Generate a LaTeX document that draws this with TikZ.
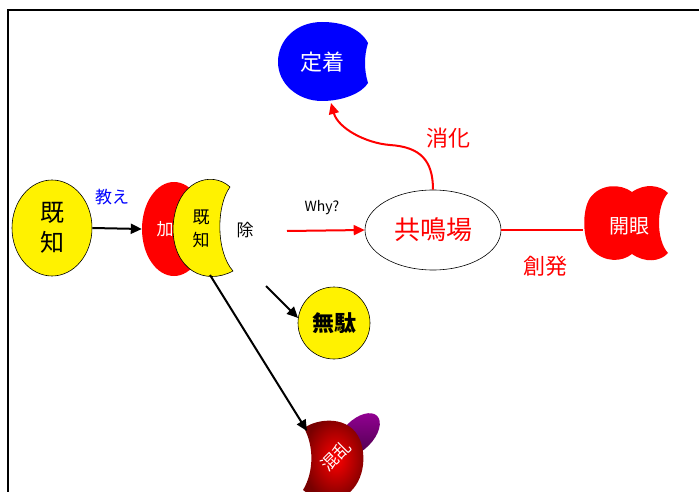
\documentclass[tikz,border=0pt]{standalone}
\usepackage{fontspec}
\setmainfont{Noto Sans CJK JP}
\usetikzlibrary{shapes.geometric,arrows.meta}
\definecolor{darkred}{RGB}{120,0,0}
\definecolor{purp}{RGB}{150,0,150}
\definecolor{darkpurp}{RGB}{70,0,70}
\begin{document}
\begin{tikzpicture}[x=1pt,y=-1pt,
  arrK/.style={line width=2pt,-{Triangle[length=11pt,width=10pt]}},
  arrR/.style={line width=2pt,red,-{Triangle[length=11pt,width=10pt]}},
  lbl/.style={inner sep=0pt},
  f17/.style={font=\fontsize{17}{20}\selectfont},
  f22/.style={font=\fontsize{22}{26}\selectfont}]
\clip (0,0) rectangle (699,492);
\useasboundingbox (0,0) rectangle (699,492);
\draw[line width=1.8pt] (8,500) -- (8,10) -- (710,10);

% left kichi
\node[ellipse,draw,line width=0.6pt,fill=yellow,minimum width=80,minimum height=96,inner sep=0pt,
      font=\fontsize{24}{30}\selectfont,align=center] (kichiA) at (52,228) {既\\知};
% red ellipse
\node[ellipse,fill=red,minimum width=64,minimum height=94,inner sep=0pt] (kuwae) at (174,229) {};
\node[lbl,f17,text=white] (kuwaeT) at (165,229) {加};
% crescent
\filldraw[fill=yellow,draw=black,line width=0.6pt]
  (230,187) .. controls (212,170) and (175,180) .. (173,228)
  .. controls (173,270) and (205,286) .. (233,271)
  .. controls (216,252) and (216,206) .. (230,187) -- cycle;
\node[lbl,f17,align=center] (kichiB) at (201,229) {既\\[3pt]知};
\node[lbl,f17] (nozoku) at (245,230) {除};
\draw[arrK] (kichiA.east) -- (kuwae.west);
\node[lbl,f17,text=blue] (oshie) at (112,197) {教え};

% kyomeiba
\node[ellipse,draw,line width=0.6pt,minimum width=136,minimum height=80,inner sep=0pt,text=red,
      font=\fontsize{26}{30}\selectfont] (kyomei) at (433,230) {共鳴場};
\coordinate (whyS) at (287,231);
\draw[arrR] (whyS) -- (kyomei.west);
\node[lbl,font=\fontsize{14}{16}\selectfont] (why) at (322,208) {Why?};

% teichaku
\fill[blue] (368,43) .. controls (360,28) and (342,22) .. (322,22)
  .. controls (296,22) and (278,40) .. (278,62)
  .. controls (278,84) and (298,101) .. (322,101)
  .. controls (343,101) and (362,93) .. (368,83)
  .. controls (364,70) and (364,56) .. (368,43) -- cycle;
\node[lbl,f22,text=white] (teichaku) at (322,62) {定着};
\coordinate (teichakuS) at (331,103);
\draw[arrR] (kyomei.north) .. controls (433,160) and (420,147) .. (390,145)
  .. controls (365,143) and (338,128) .. (teichakuS);
\node[lbl,f22,text=red] (shouka) at (448,138) {消化};

% kaigan
\fill[red] (668,193) .. controls (660,185) and (645,183) .. (632,192)
  .. controls (620,183) and (600,184) .. (590,198)
  .. controls (582,210) and (582,240) .. (592,250)
  .. controls (605,263) and (622,262) .. (632,254)
  .. controls (645,263) and (660,262) .. (668,253)
  .. controls (656,240) and (656,206) .. (668,193) -- cycle;
\node[lbl,font=\fontsize{20}{24}\selectfont,text=white] (kaigan) at (629,226) {開眼};
\coordinate (kaiganW) at (583,230);
\draw[line width=2pt,red] (kyomei.east) -- (kaiganW);
\node[lbl,f22,text=red] (souhatsu) at (545,266) {創発};

% muda
\node[circle,draw,line width=0.6pt,fill=yellow,minimum size=72,inner sep=0pt,
      font=\fontsize{22}{26}\selectfont\bfseries] (muda) at (334,323) {無駄};
\coordinate (mudaS) at (266,286);
\draw[arrK] (mudaS) -- (muda.172);

% konran
\shade[top color=purp,bottom color=darkpurp,rotate around={45:(358,435)}]
  (358,435) ellipse [x radius=27,y radius=15];
\shade[inner color=red,outer color=darkred]
  (304,428) .. controls (318,418) and (350,415) .. (360,440)
  .. controls (368,460) and (362,490) .. (340,498)
  .. controls (325,502) and (310,496) .. (303,490)
  .. controls (314,472) and (314,446) .. (304,428) -- cycle;
\node[lbl,font=\fontsize{17}{20}\selectfont,text=white,rotate=45] (konran) at (336,456) {混乱};
\coordinate (konranS) at (210,275);
\coordinate (konranN) at (307,431);
\draw[arrK] (konranS) -- (konranN);
\end{tikzpicture}
\end{document}
